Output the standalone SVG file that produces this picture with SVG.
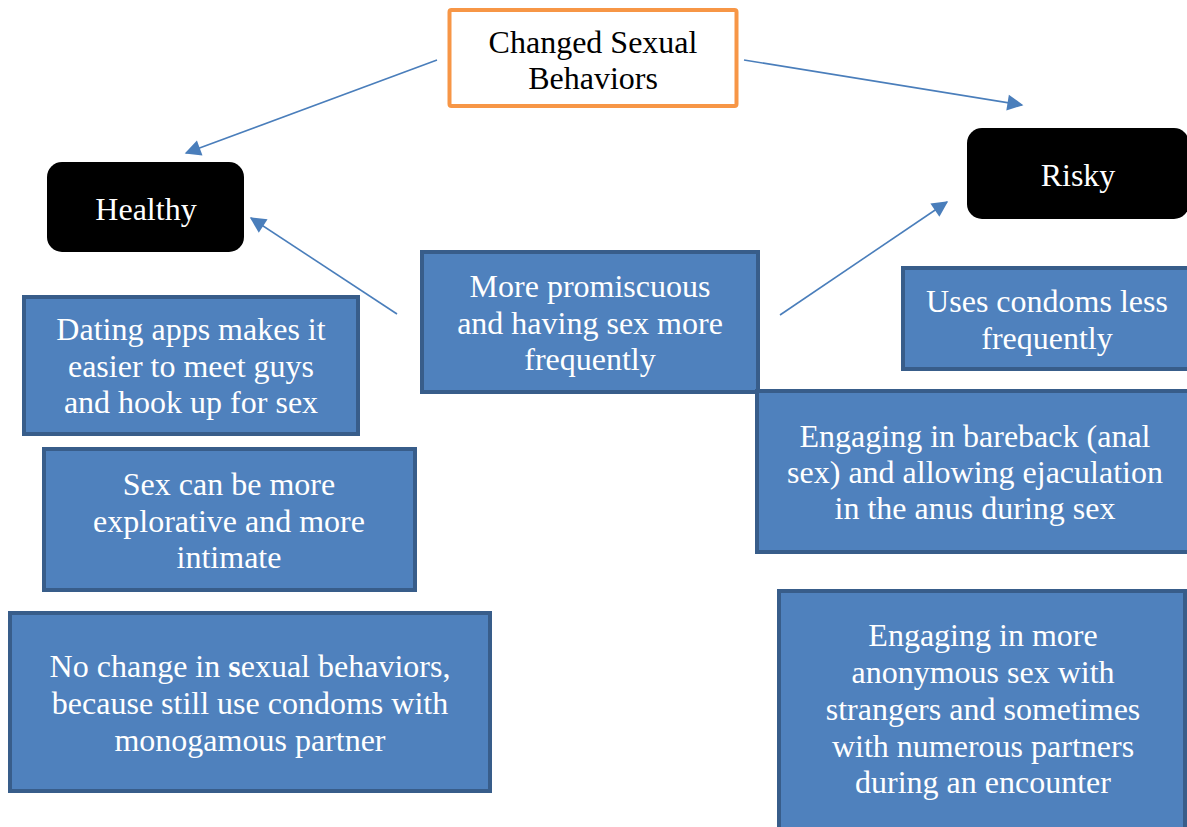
<svg xmlns="http://www.w3.org/2000/svg" width="1187" height="827" viewBox="0 0 1187 827">
<style>
text{font-family:"Liberation Serif","Times New Roman",serif;font-size:32px;text-anchor:middle}
.blue rect{fill:#4F81BD;stroke:#385D8A;stroke-width:4}
.blue text{fill:#fff}
.cat rect{fill:#000}
.cat text{fill:#fff}
.conn line{stroke:#4A7EBB;stroke-width:1.6;fill:none;marker-end:url(#ah)}
</style>
<defs>
<marker id="ah" viewBox="0 0 10 10" refX="9" refY="5" markerWidth="10" markerHeight="10" markerUnits="userSpaceOnUse" orient="auto" overflow="visible">
<path d="M0,0 L10,5 L0,10 z" fill="#4A7EBB" transform="scale(1.6) translate(-3.5,-1.9)"/>
</marker>
</defs>
<rect width="1187" height="827" fill="#fff"/>
<g id="top">
<rect x="449.5" y="10" width="287" height="96" rx="2" fill="#fff" stroke="#F79646" stroke-width="4"/>
<text x="593" y="53" fill="#000">Changed Sexual</text>
<text x="593" y="89" fill="#000">Behaviors</text>
</g>
<g id="healthy" class="cat">
<rect x="47" y="162" width="197" height="90" rx="15"/>
<text x="146" y="220">Healthy</text>
</g>
<g id="risky" class="cat">
<rect x="967" y="128" width="222" height="91" rx="15"/>
<text x="1078" y="186">Risky</text>
</g>
<g id="connectors" class="conn">
<line x1="437" y1="60" x2="186" y2="153"/>
<line x1="744" y1="60" x2="1022" y2="105"/>
<line x1="397" y1="314" x2="251" y2="218"/>
<line x1="780" y1="315" x2="947" y2="202"/>
</g>
<g id="promiscuous" class="blue">
<rect x="422" y="252" width="336" height="140"/>
<text x="590" y="297">More promiscuous</text>
<text x="590" y="334">and having sex more</text>
<text x="590" y="370">frequently</text>
</g>
<g id="dating" class="blue">
<rect x="24" y="297" width="334" height="137"/>
<text x="191" y="340">Dating apps makes it</text>
<text x="191" y="377">easier to meet guys</text>
<text x="191" y="413">and hook up for sex</text>
</g>
<g id="explorative" class="blue">
<rect x="44" y="449" width="371" height="141"/>
<text x="229" y="495">Sex can be more</text>
<text x="229" y="532">explorative and more</text>
<text x="229" y="568">intimate</text>
</g>
<g id="nochange" class="blue">
<rect x="10" y="613" width="480" height="178"/>
<text x="250" y="677">No change in <tspan font-weight="bold">s</tspan>exual behaviors,</text>
<text x="250" y="714">because still use condoms with</text>
<text x="250" y="751">monogamous partner</text>
</g>
<g id="condoms" class="blue">
<rect x="903" y="268" width="286" height="101"/>
<text x="1047" y="312">Uses condoms less</text>
<text x="1047" y="349">frequently</text>
</g>
<g id="bareback" class="blue">
<rect x="757" y="391" width="432" height="161"/>
<text x="975" y="447">Engaging in bareback (anal</text>
<text x="975" y="483">sex) and allowing ejaculation</text>
<text x="975" y="519">in the anus during sex</text>
</g>
<g id="anonymous" class="blue">
<rect x="779" y="591" width="406" height="240"/>
<text x="983" y="646">Engaging in more</text>
<text x="983" y="683">anonymous sex with</text>
<text x="983" y="720">strangers and sometimes</text>
<text x="983" y="757">with numerous partners</text>
<text x="983" y="793">during an encounter</text>
</g>
</svg>
